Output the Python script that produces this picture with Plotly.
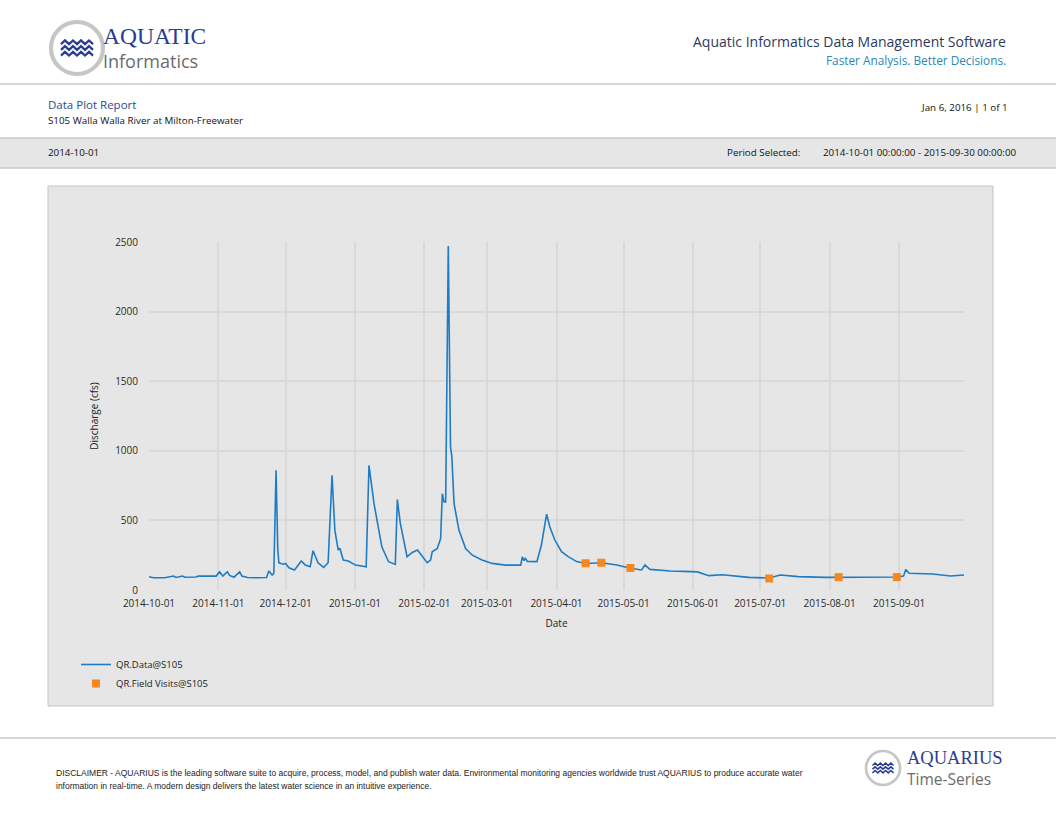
import plotly.graph_objects as go

# discharge series (cfs)
data_dates = [
    "2014-10-01", "2014-10-03", "2014-10-08", "2014-10-12", "2014-10-13", "2014-10-16",
    "2014-10-17", "2014-10-22", "2014-10-23", "2014-10-26", "2014-10-27", "2014-10-31",
    "2014-11-01 12:00", "2014-11-03", "2014-11-05", "2014-11-06", "2014-11-08",
    "2014-11-10 12:00", "2014-11-11 12:00", "2014-11-14", "2014-11-18", "2014-11-22 12:00",
    "2014-11-23 12:00", "2014-11-25", "2014-11-25 18:00", "2014-11-26 18:00",
    "2014-11-27 12:00", "2014-11-28", "2014-11-30", "2014-12-01", "2014-12-02 12:00",
    "2014-12-05", "2014-12-08", "2014-12-09 18:00", "2014-12-12", "2014-12-13 06:00",
    "2014-12-15 12:00", "2014-12-18", "2014-12-20", "2014-12-21 18:00", "2014-12-23",
    "2014-12-24 12:00", "2014-12-25 06:00", "2014-12-26 18:00", "2014-12-29",
    "2015-01-01 06:00", "2015-01-06",
    "2015-01-07 06:00", "2015-01-09 12:00", "2015-01-13", "2015-01-16", "2015-01-19",
    "2015-01-19 22:00", "2015-01-21 06:00", "2015-01-24 06:00", "2015-01-26 14:00",
    "2015-01-28 22:00", "2015-01-31", "2015-02-02 06:00", "2015-02-03 18:00",
    "2015-02-04 12:00", "2015-02-06 18:00", "2015-02-08 06:00", "2015-02-09",
    "2015-02-09 18:00", "2015-02-10 12:00", "2015-02-11 16:00", "2015-02-12 16:00",
    "2015-02-13 06:00", "2015-02-14 06:00", "2015-02-16 10:00", "2015-02-19 10:00",
    "2015-02-22 10:00", "2015-02-26 18:00", "2015-03-03 06:00", "2015-03-09 06:00",
    "2015-03-16", "2015-03-16 18:00", "2015-03-17 12:00", "2015-03-18", "2015-03-19",
    "2015-03-23 06:00", "2015-03-24", "2015-03-25 06:00", "2015-03-27 14:00", "2015-03-29",
    "2015-03-31 06:00", "2015-04-03 06:00", "2015-04-06 06:00", "2015-04-10", "2015-04-14",
    "2015-04-21", "2015-04-28", "2015-05-04", "2015-05-09", "2015-05-10 12:00",
    "2015-05-12 18:00", "2015-05-21 18:00", "2015-05-31", "2015-06-03", "2015-06-08",
    "2015-06-14", "2015-06-26", "2015-07-05", "2015-07-10", "2015-07-18", "2015-07-30",
    "2015-08-05", "2015-08-19", "2015-08-31", "2015-09-03", "2015-09-04", "2015-09-05 12:00",
    "2015-09-16", "2015-09-24", "2015-09-30",
]
data_values = [
    95, 88, 88, 100, 90, 100,
    92, 93, 100, 98, 102, 100,
    131, 100, 131, 105, 92,
    131, 100, 90, 88, 90,
    136, 107, 120, 860,
    300, 195, 185, 190, 160,
    143, 208, 180, 167, 282,
    195, 162, 196, 824, 430,
    287, 300, 215, 208,
    179, 167,
    895, 620, 310, 203, 184,
    650, 478, 239, 270,
    287, 243, 196, 215,
    275, 298, 370, 692,
    633, 633, 2471, 1027,
    960, 620, 430, 298,
    250, 215, 191, 179,
    179, 239, 210, 230, 205,
    204, 251, 323, 545, 455,
    359, 275, 240, 204, 190,
    196, 180, 156, 144, 180,
    148, 136, 132, 130, 103,
    110, 91, 86, 108, 96, 91,
    91, 91, 93, 100, 148, 120,
    115, 101, 108,
]

# field visit measurements
visit_dates = ["2015-04-14", "2015-04-21", "2015-05-04", "2015-07-05", "2015-08-05", "2015-08-31"]
visit_values = [192, 196, 158, 83, 92, 93]

W, H = 1056, 816
NAVY = "#2b3d8f"
FONT = "Open Sans"


def px(x):
    return x / W


def py(y):
    return 1 - y / H


def path_from(points):
    # build an svg path in paper coords from pixel points
    pts = [f"{px(x):.5f},{py(y):.5f}" for x, y in points]
    return "M " + " L ".join(pts)


fig = go.Figure()

fig.add_trace(go.Scatter(
    x=data_dates, y=data_values, mode="lines", name="QR.Data@S105",
    line=dict(color="#1f7cc4", width=1.6),
))
fig.add_trace(go.Scatter(
    x=visit_dates, y=visit_values, mode="markers", name="QR.Field Visits@S105",
    marker=dict(color="#f7871e", symbol="square", size=8),
))

fig.update_layout(
    width=W, height=H,
    margin=dict(l=0, r=0, t=0, b=0, pad=0, autoexpand=False),
    paper_bgcolor="white",
    plot_bgcolor="white",
    font=dict(family=FONT, size=10, color="#333333"),
    showlegend=True,
    legend=dict(
        x=px(76), y=py(650), xanchor="left", yanchor="top",
        bgcolor="rgba(0,0,0,0)", font=dict(size=9.5, color="#222222"),
        tracegroupgap=0, itemwidth=30,
    ),
    xaxis=dict(
        domain=[px(149), px(964)],
        range=["2014-10-01", "2015-09-30"],
        tickformat="%Y-%m-%d", dtick="M1", tick0="2014-10-01",
        showgrid=True, gridcolor="#d9d9d9", gridwidth=1.5,
        zeroline=False, showline=False, ticks="", automargin=False,
        ticklabelstandoff=6,
        tickfont=dict(size=10, color="#2a2a2a"),
        title=dict(text="Date", font=dict(size=10, color="#222222"), standoff=10),
    ),
    yaxis=dict(
        domain=[py(590), py(242)],
        range=[0, 2500], dtick=500,
        showgrid=True, gridcolor="#d9d9d9", gridwidth=1.5,
        zeroline=False, showline=False, ticks="", automargin=False,
        ticklabelstandoff=10,
        tickfont=dict(size=10, color="#2a2a2a"),
        title=dict(text="Discharge (cfs)", font=dict(size=10, color="#222222"), standoff=14),
    ),
)

shapes = []
# header separator
shapes.append(dict(type="line", xref="paper", yref="paper", x0=0, x1=1, y0=py(84), y1=py(84),
                   line=dict(color="#c8c8c8", width=1.5), layer="below"))
# period band
shapes.append(dict(type="rect", xref="paper", yref="paper", x0=0, x1=1, y0=py(168), y1=py(138),
                   fillcolor="#e6e6e6", line=dict(width=0), layer="below"))
for yy in (138, 168):
    shapes.append(dict(type="line", xref="paper", yref="paper", x0=0, x1=1, y0=py(yy), y1=py(yy),
                       line=dict(color="#c8c8c8", width=1.5), layer="below"))
# chart panel
shapes.append(dict(type="rect", xref="paper", yref="paper", x0=px(48), x1=px(993), y0=py(706), y1=py(186),
                   fillcolor="#e6e6e6", line=dict(color="#c4c4c4", width=1), layer="below"))
# footer separator
shapes.append(dict(type="line", xref="paper", yref="paper", x0=0, x1=1, y0=py(738), y1=py(738),
                   line=dict(color="#c8c8c8", width=1.5), layer="below"))


def logo(cx, cy, r, wave_w):
    out = [dict(type="circle", xref="paper", yref="paper",
                x0=px(cx - r), x1=px(cx + r), y0=py(cy + r), y1=py(cy - r),
                fillcolor="white", line=dict(color="#c6c6c6", width=r * 0.16))]
    step = wave_w / 8
    for k in (-1, 0, 1):
        base = cy + k * r * 0.22
        pts = []
        for i in range(9):
            pts.append((cx - wave_w / 2 + i * step, base + (-r * 0.07 if i % 2 else r * 0.07)))
        out.append(dict(type="path", xref="paper", yref="paper", path=path_from(pts),
                        line=dict(color=NAVY, width=max(1.5, r * 0.09))))
    return out


shapes += logo(77, 48, 26, 32)
shapes += logo(883, 768, 17, 21)
fig.update_layout(shapes=shapes)


def text(x, y, s, size, color="#222222", anchor="left", family=FONT):
    fig.add_annotation(x=px(x), y=py(y), xref="paper", yref="paper", text=s, showarrow=False,
                       xanchor=anchor, yanchor="middle", borderpad=0,
                       font=dict(size=size, color=color, family=family))


text(102, 36, "AQUATIC", 23.5, NAVY, family="Liberation Serif")
text(102, 61, "Informatics", 18, "#6b6b6b", family="Open Sans")
text(1007, 41, "Aquatic Informatics Data Management Software", 14, "#2a3b5e", "right")
text(1007, 60, "Faster Analysis. Better Decisions.", 11.8, "#2a87b8", "right")

text(47, 104, "Data Plot Report", 11.5, "#2b4a8f")
text(47, 120, "S105 Walla Walla River at Milton-Freewater", 9.8, "#111111")
text(1009, 108, "Jan 6, 2016 | 1 of 1", 9.8, "#111111", "right")

text(47, 152, "2014-10-01", 9.8, "#111111")
text(726, 152, "Period Selected:", 9.8, "#111111")
text(1017, 152, "2014-10-01 00:00:00 - 2015-09-30 00:00:00", 9.8, "#111111", "right")

text(55, 773, "DISCLAIMER - AQUARIUS is the leading software suite to acquire, process, model, and publish water data. "
     "Environmental monitoring agencies worldwide trust AQUARIUS to produce accurate water", 8.5, "#222222",
     family="Liberation Sans")
text(55, 786, "information in real-time. A modern design delivers the latest water science in an intuitive experience.",
     8.5, "#222222", family="Liberation Sans")

text(906, 758, "AQUARIUS", 18.5, NAVY, family="Liberation Serif")
text(906, 779, "Time-Series", 15.5, "#6b6b6b", family="Open Sans")

fig.write_html("out.html", config={"displayModeBar": False},
               post_script="document.body.style.margin='0';")
